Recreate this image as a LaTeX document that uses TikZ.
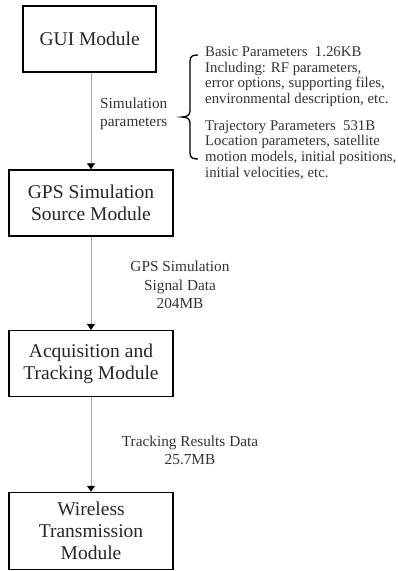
\documentclass[tikz,border=0pt]{standalone}
\usepackage{fontspec}
\setmainfont{Liberation Serif}
\usetikzlibrary{arrows.meta}
\tikzset{
  modbox/.style={draw=black, line width=1.5pt, align=center, inner sep=0pt,
    text=black!85, font=\fontsize{19.5pt}{21.7pt}\selectfont},
  flow/.style={draw=black!35, line width=0.9pt,
    -{Triangle[color=black, fill=black, length=6pt, width=8pt]}},
  lbl/.style={text=black!80, inner sep=0pt, font=\fontsize{15.3pt}{18.5pt}\selectfont},
  note/.style={text=black!80, inner sep=0pt, align=left, font=\fontsize{14.8pt}{15.6pt}\selectfont},
  bracestyle/.style={draw=black, line width=1.3pt}
}
\begin{document}
\begin{tikzpicture}[x=1pt, y=-1pt]
\useasboundingbox (0,0) rectangle (397,571);
\node[modbox, minimum width=133pt, minimum height=66pt] (gui) at (89.7,39) {GUI Module};
\node[modbox, minimum width=164pt, minimum height=66pt] (gps) at (91,203) {GPS Simulation\\Source Module};
\node[modbox, minimum width=164pt, minimum height=66pt] (acq) at (91,363.7) {Acquisition and\\Tracking Module};
\node[modbox, minimum width=164pt, minimum height=77pt] (wtm) at (91,531) {Wireless\\Transmission\\Module};

\draw[flow] (gui.south -| gps.north) -- (gps.north);
\draw[flow] (gps.south) -- (acq.north);
\draw[flow] (acq.south) -- (wtm.north);

\node[lbl, anchor=west, align=left] (simpar) at (100,114) {Simulation\\parameters};
\node[lbl, align=center] (gpsdata) at (180,285) {GPS Simulation\\Signal Data\\204MB};
\node[lbl, align=center] (trkdata) at (190,450.5) {Tracking Results Data\\25.7MB};

\node[note, anchor=west] (basic) at (205,76.5) {Basic Parameters\ \ 1.26KB\\Including: RF parameters,\\error options, supporting files,\\environmental description, etc.};
\node[note, anchor=west] (traj) at (205,150) {Trajectory Parameters\ \ 531B\\Location parameters, satellite\\motion models, initial positions,\\initial velocities, etc.};

\coordinate (btop) at (198,55);
\coordinate (btip) at (182,117);
\coordinate (bbot) at (198,159);
\draw[bracestyle] (btop) .. controls (193,55) and (190,56) .. (190,61) -- (190,111)
  .. controls (190,115) and (187,117) .. (btip)
  .. controls (187,117) and (190,119) .. (190,123) -- (190,153)
  .. controls (190,158) and (193,159) .. (bbot);
\end{tikzpicture}
\end{document}
